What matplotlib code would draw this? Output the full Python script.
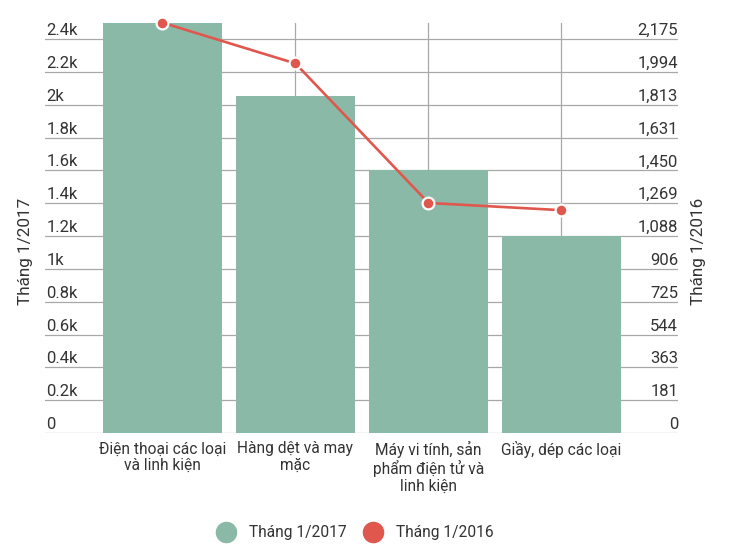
import matplotlib
matplotlib.use('Agg')
import matplotlib.pyplot as plt
from matplotlib.lines import Line2D
from matplotlib.transforms import blended_transform_factory, offset_copy

plt.rcParams['font.family'] = ['Roboto', 'DejaVu Sans']

# data
categories = ["Điện thoại các loại\nvà linh kiện", "Hàng dệt và may\nmặc",
              "Máy vi tính, sản\nphẩm điện tử và\nlinh kiện", "Giầy, dép các loại"]
thang_2017 = [2500, 2050, 1600, 1200]
thang_2016 = [2265, 2040, 1270, 1230]
left_ticks = [0, 200, 400, 600, 800, 1000, 1200, 1400, 1600, 1800, 2000, 2200, 2400]
right_ticks = [0, 181.25, 362.5, 543.75, 725, 906.25, 1087.5, 1268.75, 1450,
               1631.25, 1812.5, 1993.75, 2175]

green = '#8abaa7'
red = '#e0574e'
text_col = '#333333'
grid_col = '#a8a8a8'

fig = plt.figure(figsize=(7.3, 5.54), dpi=100)
ax = fig.add_axes([45 / 730, 121 / 554, 633 / 730, 410.4 / 554])
ax2 = ax.twinx()

x = list(range(len(categories)))
ax.bar(x, thang_2017, width=0.895, color=green, zorder=2)
ax2.plot(x, thang_2016, color=red, lw=1.9, marker='o', ms=8.5,
         markerfacecolor=red, markeredgecolor='white', mew=1.6, zorder=3,
         clip_on=False)

ax.set_xlim(-0.883, 3.876)
ax.set_ylim(0, 2500)
ax2.set_ylim(0, 2500 * 2175 / 2400)

ax.set_xticks(x)
ax.set_xticklabels(categories, fontsize=11.2, color=text_col, linespacing=1.15)
ax.set_yticks(left_ticks)
ax2.set_yticks(right_ticks)
ax.tick_params(axis='x', length=0, pad=6)
ax.tick_params(axis='y', length=0, labelleft=False)
ax2.tick_params(axis='y', length=0, labelright=False)
ax.set_axisbelow(True)
ax.grid(True, axis='both', color=grid_col, lw=0.9)
ax2.grid(False)
for a in (ax, ax2):
    for s in a.spines.values():
        s.set_visible(False)

# tick labels sit on top of the gridlines, inside the plot
trans_l = offset_copy(blended_transform_factory(ax.transAxes, ax.transData),
                      fig=fig, x=1.5, y=4, units='dots')
for v in left_ticks:
    lab = '0' if v == 0 else f"{v / 1000:g}k"
    ax.text(0, v, lab, transform=trans_l, ha='left', va='baseline',
            fontsize=12, color=text_col)
trans_r = offset_copy(blended_transform_factory(ax2.transAxes, ax2.transData),
                      fig=fig, x=0, y=4, units='dots')
for v in right_ticks:
    ax2.text(1, v, f"{int(v + 0.5):,}", transform=trans_r, ha='right',
             va='baseline', fontsize=12, color=text_col)

fig.text(25.5 / 730, 1 - 251 / 554, 'Tháng 1/2017', rotation=90, ha='center',
         va='center', fontsize=12.3, color=text_col)
fig.text(698 / 730, 1 - 251 / 554, 'Tháng 1/2016', rotation=90, ha='center',
         va='center', fontsize=12.3, color=text_col)

handles = [Line2D([], [], ls='none', marker='o', ms=14.5, color=green),
           Line2D([], [], ls='none', marker='o', ms=14.5, color=red)]
fig.legend(handles, ['Tháng 1/2017', 'Tháng 1/2016'], loc='center', ncol=2,
           bbox_to_anchor=(356 / 730, 1 - 533 / 554), frameon=False,
           fontsize=11.2, labelcolor=text_col, handlelength=1.0,
           handletextpad=1.0, columnspacing=1.2)

fig.savefig('out.png', dpi=100)
